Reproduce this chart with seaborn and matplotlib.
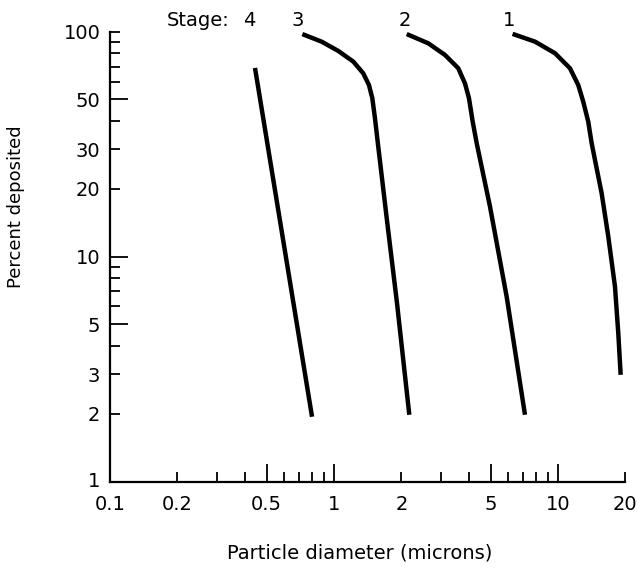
import matplotlib
matplotlib.use("Agg")
import matplotlib.pyplot as plt
import matplotlib.ticker as mticker
import matplotlib.transforms as mtrans
import seaborn as sns
import pandas as pd

# values (log-log plot)
stage4_d = [0.444, 0.798]
stage4_p = [69.0, 1.94]

stage3_d = [0.722, 0.881, 1.045, 1.220, 1.351, 1.433, 1.483, 1.524, 1.567, 1.724, 1.911, 2.169]
stage3_p = [97.6, 90.3, 82.1, 73.6, 65.3, 57.9, 50.6, 41.2, 32.4, 14.5, 6.22, 1.98]

stage2_d = [2.112, 2.636, 3.130, 3.588, 3.844, 4.006, 4.162, 4.337, 4.971, 5.902, 7.123]
stage2_p = [97.6, 88.8, 78.8, 68.8, 58.9, 50.6, 39.8, 31.9, 16.7, 6.63, 1.98]

stage1_d = [6.27, 7.90, 9.70, 11.31, 12.32, 12.97, 13.65, 14.14, 14.63, 15.67, 16.77, 17.97, 18.59, 19.05]
stage1_p = [97.8, 90.3, 80.2, 68.8, 57.9, 48.8, 39.8, 31.9, 26.9, 19.1, 12.3, 7.35, 4.56, 2.98]

stage_names = ["4", "3", "2", "1"]
stage_label_x = [0.417, 0.691, 2.075, 6.04]

x_labels = [0.1, 0.2, 0.5, 1, 2, 5, 10, 20]
y_labels = [1, 2, 3, 5, 10, 20, 30, 50, 100]

frames = []
for name, d, p in zip(stage_names,
                      [stage4_d, stage3_d, stage2_d, stage1_d],
                      [stage4_p, stage3_p, stage2_p, stage1_p]):
    frames.append(pd.DataFrame({"Stage": name, "Diameter": d, "Percent": p}))
df = pd.concat(frames, ignore_index=True)

sns.set_style("ticks")
plt.rcParams["font.family"] = ["DejaVu Sans"]
plt.rcParams["lines.solid_joinstyle"] = "round"
plt.rcParams["lines.solid_capstyle"] = "butt"

fig = plt.figure(figsize=(6.37, 5.69), dpi=100)
ax = fig.add_axes([110 / 637, 87.5 / 569, 515.4 / 637, 449.8 / 569])

sns.lineplot(data=df, x="Diameter", y="Percent", hue="Stage", units="Stage",
             estimator=None, sort=False, palette=["black"] * 4,
             linewidth=3.2, legend=False, ax=ax)

ax.set_xscale("log")
ax.set_yscale("log")
ax.set_xlim(0.1, 20)
ax.set_ylim(1, 100)

for side in ["top", "right"]:
    ax.spines[side].set_visible(False)
for side in ["left", "bottom"]:
    ax.spines[side].set_linewidth(1.6)
    ax.spines[side].set_color("black")

# x ticks: long ones at 0.5, 1, 5, 10; shorter ones elsewhere
x_major = [0.5, 1, 5, 10]
x_minor = [0.1, 0.2, 0.3, 0.4, 0.6, 0.7, 0.8, 0.9, 2, 3, 4, 6, 7, 8, 9, 20]
ax.xaxis.set_major_locator(mticker.FixedLocator(x_major))
ax.xaxis.set_major_formatter(mticker.FixedFormatter([f"{v:g}" for v in x_major]))
ax.xaxis.set_minor_locator(mticker.FixedLocator(x_minor))
ax.xaxis.set_minor_formatter(mticker.FixedFormatter(
    [f"{v:g}" if v in x_labels else "" for v in x_minor]))

y_major = [5, 10, 50]
y_minor = [2, 3, 4, 6, 7, 8, 9, 20, 30, 40, 60, 70, 80, 90, 100]
ax.yaxis.set_major_locator(mticker.FixedLocator(y_major))
ax.yaxis.set_major_formatter(mticker.FixedFormatter([f"{v:g}" for v in y_major]))
ax.yaxis.set_minor_locator(mticker.FixedLocator(y_minor))
ax.yaxis.set_minor_formatter(mticker.FixedFormatter(
    [f"{v:g}" if v in y_labels else "" for v in y_minor]))

ax.tick_params(axis="both", which="both", direction="in", colors="black",
               width=1.3, labelsize=14)
ax.tick_params(axis="both", which="major", length=13)
ax.tick_params(axis="both", which="minor", length=7.5)
ax.tick_params(axis="x", which="both", pad=10)
ax.tick_params(axis="y", which="both", pad=7)

# the "1" label on y sits at the corner
ax.text(-0.0194, 0.0, "1", transform=ax.transAxes, ha="right", va="center",
        fontsize=14, color="black")

ax.set_xlabel("Particle diameter (microns)", fontsize=14, color="black")
ax.set_ylabel("Percent deposited", fontsize=13, color="black")
ax.xaxis.set_label_coords(0.485, -0.137)
ax.yaxis.set_label_coords(-0.165, 0.61)

trans = mtrans.blended_transform_factory(ax.transData, ax.transAxes)
for name, xv in zip(stage_names, stage_label_x):
    ax.text(xv, 1.026, name, transform=trans, ha="center", va="center",
            fontsize=14, color="black", clip_on=False)
ax.text(0.34, 1.026, "Stage:", transform=trans, ha="right", va="center",
        fontsize=14, color="black", clip_on=False)

fig.savefig("out.png", dpi=100)
